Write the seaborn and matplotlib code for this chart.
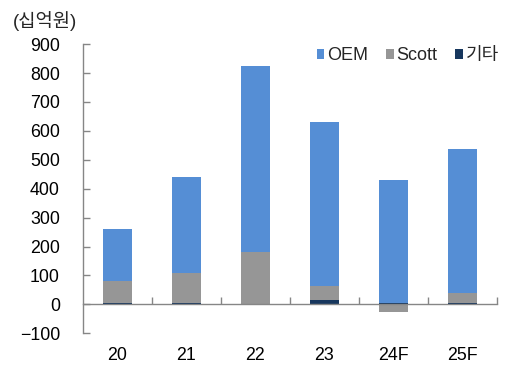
import matplotlib
matplotlib.use("Agg")
import matplotlib.pyplot as plt
import seaborn as sns
import numpy as np
from matplotlib.patches import Patch

# 연도별 부문 매출 (십억원)
years = ["20", "21", "22", "23", "24F", "25F"]
etc = [6, 3, 0, 14, 6, 3]
scott = [74, 104, 181, 50, -25, 35]
oem = [180, 334, 642, 568, 424, 500]

series_names = ["OEM", "Scott", "기타"]
colors = {"OEM": "#558ED5", "Scott": "#969696", "기타": "#17375E"}

sns.set_theme(style="white")
plt.rcParams["font.family"] = ["Liberation Sans", "Noto Sans CJK KR"]

fig = plt.figure(figsize=(5.15, 3.65), dpi=100)
ax = fig.add_axes([0.161, 0.087, 0.804, 0.792])

etc_arr = np.array(etc)
scott_arr = np.array(scott)
oem_arr = np.array(oem)

# stacking: 기타 at the base, Scott above it (or below zero if negative), OEM on top
scott_bottom = np.where(scott_arr >= 0, etc_arr, 0)
oem_bottom = etc_arr + np.clip(scott_arr, 0, None)

bw = 0.41
sns.barplot(x=years, y=etc, bottom=np.zeros(len(years)), color=colors["기타"],
            width=bw, saturation=1, errorbar=None, ax=ax, linewidth=0)
sns.barplot(x=years, y=scott, bottom=scott_bottom, color=colors["Scott"],
            width=bw, saturation=1, errorbar=None, ax=ax, linewidth=0)
sns.barplot(x=years, y=oem, bottom=oem_bottom, color=colors["OEM"],
            width=bw, saturation=1, errorbar=None, ax=ax, linewidth=0)

ax.set_ylim(-100, 900)
ax.set_yticks(np.arange(-100, 901, 100))
ax.set_xlim(-0.5, len(years) - 0.5)
ax.set_xlabel("")
ax.set_ylabel("")

axis_color = "#868686"
for s in ["top", "right"]:
    ax.spines[s].set_visible(False)
ax.spines["left"].set_color(axis_color)
ax.spines["left"].set_linewidth(1.0)
ax.spines["bottom"].set_color(axis_color)
ax.spines["bottom"].set_linewidth(1.0)
ax.spines["bottom"].set_position(("data", 0))

ax.tick_params(axis="y", direction="in", length=5, width=1, color=axis_color,
               labelsize=12.8, labelcolor="#000000", pad=16.5, left=True)
ax.set_xticks(np.arange(len(years)))
ax.set_xticks(np.arange(len(years)) + 0.5, minor=True)
ax.set_xticklabels(years)
ax.tick_params(axis="x", which="major", length=0, pad=31, labelsize=12.8,
               labelcolor="#000000", bottom=True)
ax.tick_params(axis="x", which="minor", direction="in", length=5, width=1,
               color=axis_color, bottom=True)

handles = [Patch(facecolor=colors[n], edgecolor="none") for n in series_names]
fig.legend(handles, series_names, loc="upper right", bbox_to_anchor=(0.99, 0.9),
           ncol=3, frameon=False, fontsize=13, handlelength=0.42, handleheight=0.42,
           handletextpad=0.15, columnspacing=1.0, borderaxespad=0.2)

fig.text(0.025, 0.942, "(십억원)", fontsize=13.5, va="center", ha="left")

fig.savefig("out.png", dpi=100)
